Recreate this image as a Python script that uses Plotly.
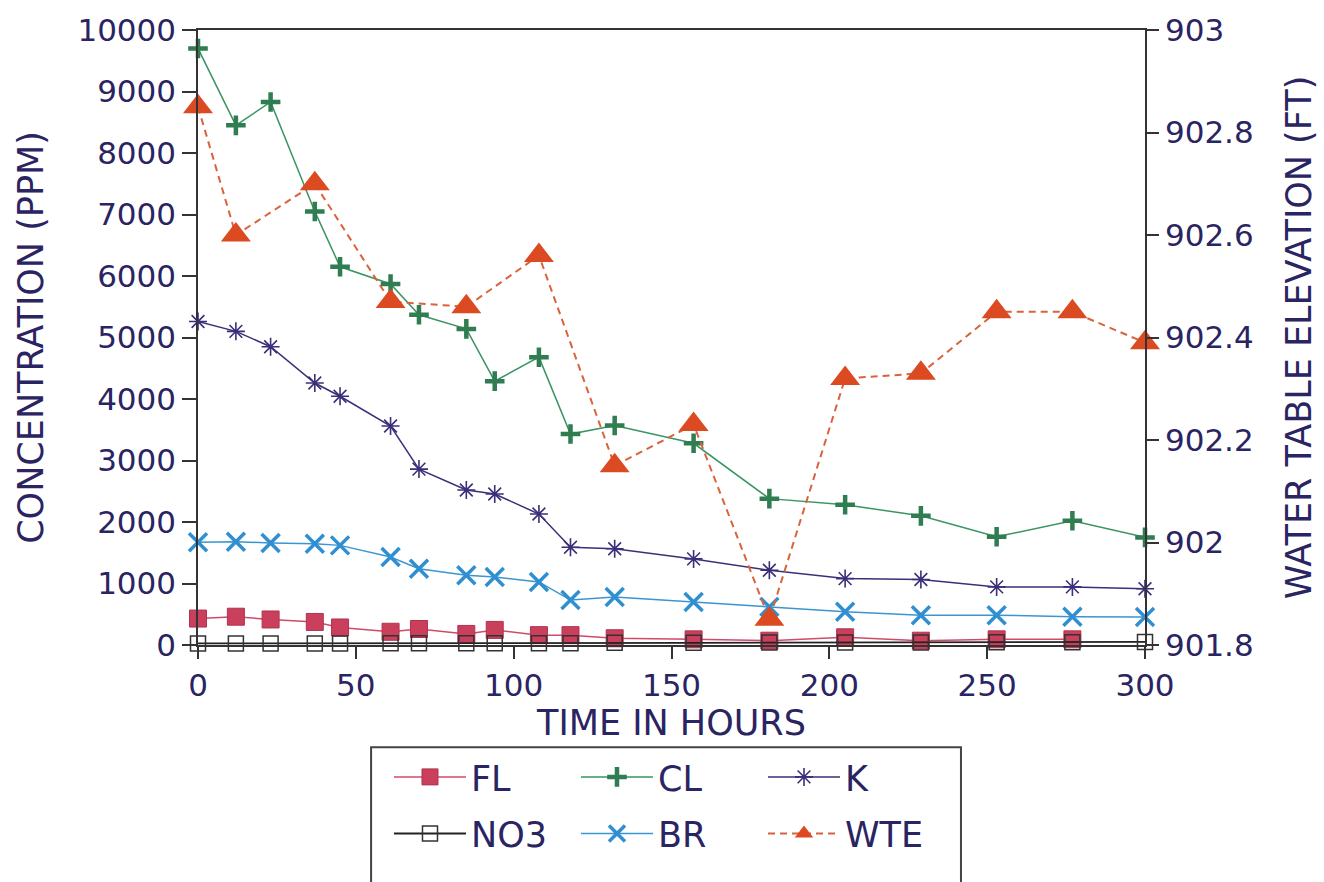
import plotly.graph_objects as go

# Sampling times (hours)
hours = [0, 12, 23, 37, 45, 61, 70, 85, 94, 108, 118, 132, 157, 181, 205, 229, 253, 277, 300]
hours_fl = [0, 12, 23, 37, 45, 61, 70, 85, 94, 108, 118, 132, 157, 181, 205, 229, 253, 277]
hours_wte = [0, 12, 37, 61, 85, 108, 132, 157, 181, 205, 229, 253, 277, 300]

# Concentrations (ppm)
fl = [430, 460, 415, 375, 285, 215, 260, 180, 245, 160, 160, 110, 92, 70, 125, 70, 92, 92]
cl = [9700, 8450, 8830, 7050, 6150, 5870, 5370, 5140, 4290, 4680, 3430, 3570, 3280,
      2380, 2280, 2100, 1760, 2020, 1750]
k = [5260, 5100, 4850, 4260, 4045, 3560, 2860, 2520, 2455, 2130, 1590, 1565, 1400,
     1215, 1080, 1065, 945, 945, 915]
no3 = [25, 25, 25, 25, 25, 30, 30, 30, 30, 30, 30, 35, 35, 40, 40, 40, 45, 45, 50]
br = [1670, 1680, 1660, 1645, 1620, 1430, 1240, 1135, 1105, 1025, 730, 780, 700,
      620, 540, 485, 485, 460, 455]

# Water table elevation (ft)
wte = [902.85, 902.60, 902.70, 902.47, 902.46, 902.56, 902.15, 902.23, 901.85,
       902.32, 902.33, 902.45, 902.45, 902.39]

# Axis ticks
x_ticks = [0, 50, 100, 150, 200, 250, 300]
conc_ticks = [0, 1000, 2000, 3000, 4000, 5000, 6000, 7000, 8000, 9000, 10000]
conc_labels = ["0", "1000", "2000", "3000", "4000", "5000", "6000", "7000", "8000", "9000", "10000"]
elev_ticks = [901.8, 902.0, 902.2, 902.4, 902.6, 902.8, 903.0]
elev_labels = ["901.8", "902", "902.2", "902.4", "902.6", "902.8", "903"]

FONT = "DejaVu Sans"
INK = "#2a2462"
AXIS = "#333333"

fig = go.Figure()

fig.add_trace(go.Scatter(
    x=hours_fl, y=fl, name="FL", mode="lines+markers", legend="legend", cliponaxis=False,
    line=dict(color="#d2496a", width=1.5),
    marker=dict(symbol="square", size=17, color="#c93f5c",
                line=dict(color="#b03450", width=1))))
fig.add_trace(go.Scatter(
    x=hours, y=cl, name="CL", mode="lines+markers", legend="legend", cliponaxis=False,
    line=dict(color="#3a9463", width=1.5),
    marker=dict(symbol="cross-thin", size=14, color="#2f7d50",
                line=dict(color="#2f7d50", width=4.5))))
fig.add_trace(go.Scatter(
    x=hours, y=k, name="K", mode="lines+markers", legend="legend", cliponaxis=False,
    line=dict(color="#3a2f78", width=1.5),
    marker=dict(symbol="asterisk-open", size=15, color="#3a2f78",
                line=dict(color="#3a2f78", width=1.6))))
fig.add_trace(go.Scatter(
    x=hours, y=no3, name="NO3", mode="lines+markers", legend="legend2", cliponaxis=False,
    line=dict(color="#222222", width=1.8),
    marker=dict(symbol="square-open", size=15, color="#333333",
                line=dict(color="#333333", width=1.5))))
fig.add_trace(go.Scatter(
    x=hours, y=br, name="BR", mode="lines+markers", legend="legend2", cliponaxis=False,
    line=dict(color="#3a96d2", width=1.5),
    marker=dict(symbol="x-thin", size=18, color="#2f8fd0",
                line=dict(color="#2f8fd0", width=3.5))))
fig.add_trace(go.Scatter(
    x=hours_wte, y=wte, name="WTE", mode="lines+markers", legend="legend2", yaxis="y2",
    cliponaxis=False,
    line=dict(color="#d8633c", width=2, dash="7px,5px"),
    marker=dict(symbol="triangle-up", size=26, color="#dc4a22",
                line=dict(color="#dc4a22", width=0))))

tickfont = dict(family=FONT, size=31, color=INK)
titlefont = dict(family=FONT, size=35, color=INK)

legend_common = dict(
    orientation="h", xanchor="left", yanchor="middle",
    bgcolor="rgba(0,0,0,0)", borderwidth=0,
    font=dict(family=FONT, size=35, color=INK),
    itemwidth=72, entrywidth=100, entrywidthmode="pixels",
    traceorder="normal", itemclick=False,
)

fig.update_layout(
    width=1324, height=882,
    margin=dict(l=198, r=174, t=26, b=237),
    paper_bgcolor="white", plot_bgcolor="white",
    xaxis=dict(
        range=[0, 300], tickvals=x_ticks, ticks="outside", ticklen=12, tickwidth=1.5,
        tickcolor=AXIS, showline=True, linecolor=AXIS, linewidth=1.5, mirror=True,
        showgrid=False, zeroline=False, tickfont=tickfont,
        title=dict(text="TIME IN HOURS", font=titlefont, standoff=5),
    ),
    yaxis=dict(
        range=[0, 10000], tickvals=conc_ticks, ticktext=conc_labels, ticks="outside",
        ticklen=14, tickwidth=1.5, tickcolor=AXIS, showline=True, linecolor=AXIS,
        linewidth=1.5, showgrid=False, zeroline=False, tickfont=tickfont,
        title=dict(text="CONCENTRATION (PPM)", font=titlefont, standoff=23),
    ),
    yaxis2=dict(
        range=[901.8, 903.0], overlaying="y", side="right", tickvals=elev_ticks,
        ticktext=elev_labels, ticks="outside", ticklen=12, tickwidth=1.5,
        tickcolor=AXIS, showline=True, linecolor=AXIS, linewidth=1.5,
        showgrid=False, zeroline=False, tickfont=tickfont,
        title=dict(text="WATER TABLE ELEVATION (FT)", font=titlefont, standoff=34),
    ),
    legend=dict(x=(390 - 198) / 952, y=(645 - 778) / 619, **legend_common),
    legend2=dict(x=(390 - 198) / 952, y=(645 - 835) / 619, **legend_common),
    shapes=[dict(
        type="rect", xref="paper", yref="paper",
        x0=(372 - 198) / 952, x1=(965 - 198) / 952,
        y0=(645 - 748) / 619, y1=(645 - 905) / 619,
        line=dict(color="#444444", width=2), fillcolor="rgba(0,0,0,0)", layer="below",
    )],
)

fig.write_html("out.html")
